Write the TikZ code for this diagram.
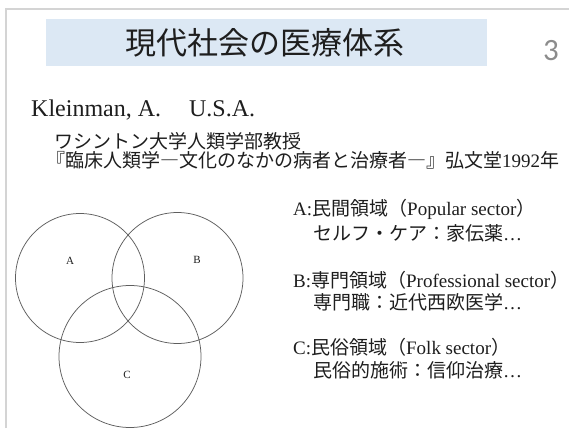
\documentclass[tikz,border=0pt]{standalone}
\usepackage{fontspec}
\setmainfont{Liberation Serif}
\newfontfamily\jp{Noto Sans CJK JP}
\newfontfamily\numfont{Carlito}
\definecolor{titlefill}{HTML}{DCE8F4}
\definecolor{framegray}{HTML}{D4D4D4}
\definecolor{ink}{HTML}{1E1E1E}
\definecolor{circgray}{HTML}{5E5E5E}
\begin{document}
\begin{tikzpicture}[x=1pt,y=-1pt,
  framestyle/.style={draw=framegray,line width=1.5pt},
  titlebox/.style={fill=titlefill,draw=none,minimum width=441pt,minimum height=47pt,inner sep=0pt},
  venn/.style={circle,draw=circgray,line width=0.75pt,inner sep=0pt},
  vlabel/.style={font=\fontsize{11}{11}\selectfont,text=ink,inner sep=0pt},
  body/.style={anchor=base west,inner sep=0pt,text=ink,font=\fontsize{19}{19}\selectfont}]
\useasboundingbox (0,0) rectangle (569,428);
\fill[white] (0,0) rectangle (569,428);
\coordinate (fbl) at (6,428);
\coordinate (ftl) at (6,9);
\coordinate (ftr) at (569,9);
\draw[framestyle] (fbl) -- (ftl) -- (ftr);
\node[titlebox] (titlebg) at (266.5,42.5) {};
\node[anchor=base,inner sep=0pt,text=ink,font=\jp\fontsize{31}{31}\selectfont] (title) at (265,54) {現代社会の医療体系};
\node[anchor=base west,inner sep=0pt,text=black!45,font=\numfont\fontsize{31}{31}\selectfont] (pnum) at (543,60) {3};
\node[anchor=base west,inner sep=0pt,text=ink,font=\fontsize{24}{24}\selectfont] (author) at (31,116) {Kleinman, A.\hspace{28pt}U.S.A.};
\node[body] (aff) at (54,148) {\jp ワシントン大学人類学部教授};
\node[body] (book) at (46,167) {{\jp 『臨床人類学―文化のなかの病者と治療者―』弘文堂}1992{\jp 年}};
\node[venn,minimum size=129pt] (A) at (80,278) {};
\node[venn,minimum size=131pt] (B) at (177.5,278) {};
\node[venn,minimum size=142pt] (C) at (130,356.5) {};
\node[vlabel] (la) at (70,261) {A};
\node[vlabel] (lb) at (197,260) {B};
\node[vlabel] (lc) at (127,375) {C};
\node[body] (sa) at (293,215) {A:{\jp 民間領域（}Popular sector{\jp ）}};
\node[body] (sa2) at (313,240) {\jp セルフ・ケア：家伝薬{\rmfamily\ldots}};
\node[body] (sb) at (293,287) {B:{\jp 専門領域（}Professional sector{\jp ）}};
\node[body] (sb2) at (313,309) {\jp 専門職：近代西欧医学{\rmfamily\ldots}};
\node[body] (sc) at (293,354) {C:{\jp 民俗領域（}Folk sector{\jp ）}};
\node[body] (sc2) at (313,377) {\jp 民俗的施術：信仰治療{\rmfamily\ldots}};
\end{tikzpicture}
\end{document}
